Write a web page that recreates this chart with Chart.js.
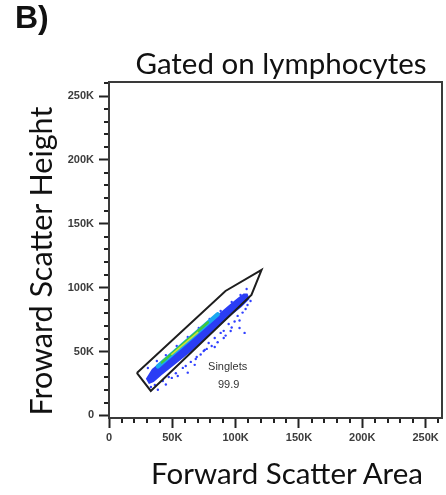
<!DOCTYPE html>
<html>
<head>
<meta charset="utf-8">
<script src="https://cdn.jsdelivr.net/npm/chart.js@4.4.1/dist/chart.umd.min.js"></script>
<style>
  html, body { margin: 0; padding: 0; background: #fff; }
  #wrap { position: relative; width: 446px; height: 495px; overflow: hidden; }
  #plot { position: absolute; left: 0; top: 0; }
  .lbl { position: absolute; white-space: nowrap; color: #111; }
  #panel { left: 15px; top: 1px; font: bold 32px/32px "Liberation Sans", Arial, sans-serif; }
  #title { left: 281px; top: 45px; transform: translateX(-50%); font: 29.5px/36px Lato, sans-serif; }
  #xtitle { left: 287px; top: 455px; transform: translateX(-50%); font: 29.5px/36px Lato, sans-serif; }
  #ytitle { left: 40px; top: 261px; width: 400px; height: 36px; text-align: center;
            transform: translate(-50%, -50%) rotate(-90deg); font: 30.5px/36px Lato, sans-serif; }
</style>
</head>
<body>
<div id="wrap">
  <canvas id="plot" width="446" height="495"></canvas>
  <div class="lbl" id="panel">B)</div>
  <div class="lbl" id="title">Gated on lymphocytes</div>
  <div class="lbl" id="ytitle">Froward Scatter Height</div>
  <div class="lbl" id="xtitle">Forward Scatter Area</div>
</div>
<script>
// axis ticks (FSC units)
const tickValues = [0, 50000, 100000, 150000, 200000, 250000];
const tickLabels = ['0', '50K', '100K', '150K', '200K', '250K'];

// singlet gate vertices
const gateArea   = [22000, 92000, 120500, 112500, 33000, 22000];
const gateHeight = [33300, 97400, 113900, 94300, 19200, 33300];
const gateName = 'Singlets';
const gatePercent = '99.9';
const gateLabelArea = [93700, 94500];
const gateLabelHeight = [38000, 23900];

// outline of the dense singlet population
const bandArea   = [29100, 33900, 40200, 48000, 55900, 63800, 71700, 79500, 87400, 95300, 101600, 106300, 109400,
                    111000, 104700, 96900, 89000, 81100, 73200, 65400, 57500, 49600, 41700, 35400, 31500];
const bandHeight = [28800, 36350, 41450, 47750, 53950, 60250, 66950, 73550, 80250, 86850, 91950, 95450, 95500,
                    91200, 84900, 78600, 71600, 64600, 57500, 50500, 44200, 37900, 31700, 26200, 24600];

// density core of the population
const cyanArea     = [38600, 62200, 85800];
const cyanHeight   = [38400, 58700, 79100];
const greenArea    = [41700, 59800, 78000];
const greenHeight  = [41500, 57100, 72800];
const yellowArea   = [49600, 70100];
const yellowHeight = [47800, 65000];

// single events around the population
const eventArea = [
  33100, 36200, 38600, 42500, 44900, 47200, 49600, 52800, 54300, 58300, 60600, 62200, 64600, 67700, 69300,
  72400, 74800, 77200, 78700, 81100, 83500, 85800, 88200, 90600, 92100, 94500, 96900, 99200, 101600, 103100,
  105500, 107900, 109400, 111800,
  103100, 107100, 83500, 90600, 96100, 75600, 68500,
  30700, 37800, 44900, 53500, 62200, 70900, 79500, 88200, 96900, 103900, 108700
];
const eventHeight = [
  22300, 23900, 20100, 27000, 24200, 30100, 29400, 33000, 30900, 37200, 38700, 33500, 41900, 39600, 45800,
  47700, 50500, 52100, 56700, 54400, 60600, 57300, 64600, 66200, 62500, 71600, 68800, 73500, 77900, 74300,
  80500, 83300, 86400, 89600,
  68500, 64600, 53600, 60600, 66100, 51300, 44200,
  37150, 42650, 47250, 54450, 61450, 68450, 75550, 81750, 88850, 94250, 98950
];

const pts = (xs, ys) => xs.map((x, i) => ({ x: x, y: ys[i] }));
const tickText = v => { const i = tickValues.indexOf(v); return i < 0 ? '' : tickLabels[i]; };
const fixedTicks = s => { s.ticks = tickValues.map(v => ({ value: v })); };

const tickFont = { family: '"Liberation Sans", Arial, sans-serif', size: 11, weight: 'bold' };

// filled population outline, minor ticks, frame and gate text
const flowPlot = {
  id: 'flowPlot',
  beforeDatasetsDraw(chart) {
    const ctx = chart.ctx, a = chart.chartArea;
    chart.data.datasets.forEach((ds, i) => {
      if (!ds.areaFill) return;
      const el = chart.getDatasetMeta(i).data;
      ctx.save();
      ctx.beginPath();
      ctx.rect(a.left, a.top, a.right - a.left, a.bottom - a.top);
      ctx.clip();
      ctx.beginPath();
      el.forEach((p, j) => j ? ctx.lineTo(p.x, p.y) : ctx.moveTo(p.x, p.y));
      ctx.closePath();
      ctx.fillStyle = ds.areaFill;
      ctx.fill();
      ctx.restore();
    });
  },
  afterDatasetsDraw(chart) {
    const ctx = chart.ctx, x = chart.scales.x, y = chart.scales.y;
    ctx.save();
    ctx.fillStyle = '#333';
    ctx.font = '11px "Liberation Sans", Arial, sans-serif';
    ctx.textAlign = 'center';
    ctx.textBaseline = 'middle';
    [gateName, gatePercent].forEach((t, i) => {
      ctx.fillText(t, x.getPixelForValue(gateLabelArea[i]), y.getPixelForValue(gateLabelHeight[i]));
    });
    ctx.restore();
  },
  afterDraw(chart) {
    const ctx = chart.ctx, a = chart.chartArea, x = chart.scales.x, y = chart.scales.y;
    ctx.save();
    ctx.strokeStyle = '#222';
    ctx.lineWidth = 2;
    ctx.beginPath();
    for (let v = 10000; v <= x.max; v += 10000) {
      if (v % 50000 === 0) continue;
      const px = Math.round(x.getPixelForValue(v));
      ctx.moveTo(px, a.bottom); ctx.lineTo(px, a.bottom + 5);
    }
    for (let v = 10000; v <= y.max; v += 10000) {
      if (v % 50000 === 0) continue;
      const py = Math.round(y.getPixelForValue(v));
      ctx.moveTo(a.left - 5, py); ctx.lineTo(a.left, py);
    }
    ctx.stroke();
    ctx.strokeStyle = '#3a3a3a';
    ctx.strokeRect(a.left, a.top, a.right - a.left, a.bottom - a.top);
    ctx.restore();
  }
};

new Chart(document.getElementById('plot'), {
  type: 'scatter',
  data: {
    datasets: [
      { label: 'Singlets gate', data: pts(gateArea, gateHeight), showLine: true, borderColor: '#1e1e1e',
        borderWidth: 2, borderJoinStyle: 'miter', pointRadius: 0, tension: 0 },
      { label: 'core high', data: pts(yellowArea, yellowHeight), showLine: true, borderColor: '#cfe03a',
        borderWidth: 1.5, borderCapStyle: 'round', pointRadius: 0 },
      { label: 'core mid', data: pts(greenArea, greenHeight), showLine: true, borderColor: '#3fca3a',
        borderWidth: 2.5, borderCapStyle: 'round', pointRadius: 0 },
      { label: 'core low', data: pts(cyanArea, cyanHeight), showLine: true, borderColor: '#1aa8f0',
        borderWidth: 4.5, borderCapStyle: 'round', pointRadius: 0 },
      { label: 'events', data: pts(eventArea, eventHeight), pointRadius: 1.2, pointBorderWidth: 0,
        pointBackgroundColor: '#3040ff' },
      { label: 'population', data: pts(bandArea, bandHeight), pointRadius: 0, areaFill: '#2a3df5' }
    ]
  },
  options: {
    responsive: false,
    devicePixelRatio: 1,
    animation: false,
    layout: { padding: { left: 0, top: 82, right: 2, bottom: 0 } },
    plugins: { legend: { display: false }, tooltip: { enabled: false } },
    scales: {
      x: {
        type: 'linear', min: 0, max: 263000,
        border: { display: false },
        grid: { drawOnChartArea: false, tickLength: 10, tickWidth: 2, tickColor: '#222' },
        ticks: { autoSkip: false, maxRotation: 0, padding: 3,
                 color: '#3c3c3c', font: tickFont, callback: tickText },
        afterBuildTicks: fixedTicks,
        afterFit: s => { s.height = 77; }
      },
      y: {
        type: 'linear', min: -2000, max: 261000,
        border: { display: false },
        grid: { drawOnChartArea: false, tickLength: 10, tickWidth: 2, tickColor: '#222' },
        ticks: { autoSkip: false, padding: 5,
                 color: '#3c3c3c', font: tickFont, callback: tickText },
        afterBuildTicks: fixedTicks,
        afterFit: s => { s.width = 109; }
      }
    }
  },
  plugins: [flowPlot]
});
</script>
</body>
</html>
